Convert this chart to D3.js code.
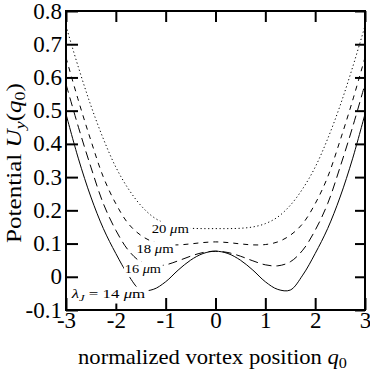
<!DOCTYPE html>
<html>
<head>
<meta charset="utf-8">
<script src="https://cdn.jsdelivr.net/npm/d3@7"></script>
<style>
  body { margin: 0; background: #fff; }
  svg, svg text { font-family: "Liberation Serif", "DejaVu Serif", serif !important; }
</style>
</head>
<body>
<div id="chart"></div>
<script>
// values
const qValues = [-3, -2.75, -2.5, -2.25, -2, -1.75, -1.5, -1.25, -1, -0.75, -0.5, -0.25, 0,
  0.25, 0.5, 0.75, 1, 1.25, 1.5, 1.75, 2, 2.25, 2.5, 2.75, 3];
const u14 = [0.49, 0.355, 0.24, 0.145, 0.07, 0.005, -0.04, -0.038, -0.015, 0.02, 0.05, 0.07, 0.077,
  0.07, 0.05, 0.02, -0.015, -0.038, -0.04, 0.005, 0.07, 0.145, 0.24, 0.355, 0.49];
const u16 = [0.58, 0.45, 0.33, 0.22, 0.14, 0.08, 0.045, 0.033, 0.036, 0.048, 0.062, 0.073, 0.077,
  0.073, 0.062, 0.048, 0.036, 0.033, 0.045, 0.08, 0.14, 0.22, 0.33, 0.45, 0.58];
const u18 = [0.66, 0.53, 0.41, 0.30, 0.22, 0.16, 0.125, 0.105, 0.097, 0.096, 0.099, 0.103, 0.105,
  0.103, 0.099, 0.096, 0.097, 0.105, 0.125, 0.16, 0.22, 0.30, 0.41, 0.53, 0.66];
const u20 = [0.755, 0.63, 0.515, 0.415, 0.33, 0.265, 0.215, 0.18, 0.16, 0.15, 0.146, 0.145, 0.145,
  0.145, 0.146, 0.15, 0.16, 0.18, 0.215, 0.265, 0.33, 0.415, 0.515, 0.63, 0.755];

const xTicks = [-3, -2, -1, 0, 1, 2, 3];
const xTickLabels = ['-3', '-2', '-1', '0', '1', '2', '3'];
const yTicks = [-0.1, 0, 0.1, 0.2, 0.3, 0.4, 0.5, 0.6, 0.7, 0.8];
const yTickLabels = ['-0.1', '0', '0.1', '0.2', '0.3', '0.4', '0.5', '0.6', '0.7', '0.8'];

const W = 370, H = 375;
const margin = { top: 11, right: 5, bottom: 65, left: 66 };
const width = W - margin.left - margin.right;
const height = H - margin.top - margin.bottom;

const svg = d3.select('#chart').append('svg').attr('width', W).attr('height', H);
const g = svg.append('g').attr('transform', `translate(${margin.left},${margin.top})`);

const x = d3.scaleLinear().domain([-3, 3]).range([0, width]);
const y = d3.scaleLinear().domain([-0.1, 0.8]).range([height, 0]);

// squeeze/stretch a text so it spans the given width, anchored at (px, py)
function fit(text, px, py, target) {
  const w = text.node().getBBox().width;
  const k = target / w;
  text.attr('x', 0).attr('y', 0)
    .attr('transform', `translate(${px},${py}) scale(${k},1)`);
}

g.append('clipPath').attr('id', 'clip')
  .append('rect').attr('width', width).attr('height', height);

// curves
const series = [
  { values: u14, dash: null },
  { values: u16, dash: '9,5' },
  { values: u18, dash: '5,5' },
  { values: u20, dash: '1.2,2.6' }
];
const line = d3.line()
  .x(d => x(d[0]))
  .y(d => y(d[1]))
  .curve(d3.curveCatmullRom.alpha(0.5));

const curves = g.append('g').attr('clip-path', 'url(#clip)');
series.forEach(s => {
  curves.append('path')
    .datum(qValues.map((q, i) => [q, s.values[i]]))
    .attr('d', line)
    .attr('fill', 'none')
    .attr('stroke', '#000')
    .attr('stroke-width', 1)
    .attr('stroke-dasharray', s.dash);
});

// axes, ticks pointing inwards on all four sides
function styleAxis(a) {
  a.attr('font-family', null).attr('font-size', 23);
  a.select('.domain').remove();
  a.selectAll('line').attr('stroke', '#000').attr('stroke-width', 2);
  a.selectAll('text').attr('fill', '#000');
}
const axisB = g.append('g').attr('transform', `translate(0,${height})`)
  .call(d3.axisBottom(x).tickValues(xTicks).tickFormat((d, i) => xTickLabels[i])
    .tickSizeInner(-12).tickSizeOuter(0));
styleAxis(axisB);
axisB.selectAll('text').attr('y', 18).attr('dy', null);

const axisL = g.append('g')
  .call(d3.axisLeft(y).tickValues(yTicks).tickFormat((d, i) => yTickLabels[i])
    .tickSizeInner(-12).tickSizeOuter(0));
styleAxis(axisL);
axisL.selectAll('text').attr('dy', null).attr('x', -4).attr('y', 7);

const axisT = g.append('g')
  .call(d3.axisTop(x).tickValues(xTicks).tickFormat('').tickSizeInner(-11).tickSizeOuter(0));
styleAxis(axisT);
const axisR = g.append('g').attr('transform', `translate(${width},0)`)
  .call(d3.axisRight(y).tickValues(yTicks).tickFormat('').tickSizeInner(-10).tickSizeOuter(0));
styleAxis(axisR);

g.append('rect')
  .attr('width', width).attr('height', height)
  .attr('fill', 'none').attr('stroke', '#000').attr('stroke-width', 2);

// curve labels
const labels = g.append('g').attr('font-size', 12);
function curveLabel(parts, q, u, target) {
  const t = labels.append('text').attr('fill', '#000');
  parts.forEach(p => {
    const s = t.append('tspan').text(p.t);
    if (p.i) s.attr('font-style', 'italic');
    if (p.sub) s.attr('font-size', 9).attr('dy', 3);
    if (p.up) s.attr('dy', -3);
  });
  const b = t.node().getBBox();
  fit(t, x(q), y(u), target);
  labels.insert('rect', () => t.node())
    .attr('x', x(q) - 1).attr('y', y(u) + b.y - 0.5)
    .attr('width', target + 2).attr('height', b.height + 1)
    .attr('fill', '#fff');
}
curveLabel([{ t: '20 ' }, { t: 'μ', i: true }, { t: 'm' }], -1.28, 0.132, 38);
curveLabel([{ t: '18 ' }, { t: 'μ', i: true }, { t: 'm' }], -1.586, 0.072, 38);
curveLabel([{ t: '16 ' }, { t: 'μ', i: true }, { t: 'm' }], -1.82, 0.010, 37);
curveLabel([{ t: 'λ', i: true }, { t: 'J', i: true, sub: true }, { t: ' = 14 ', up: true },
  { t: 'μ', i: true }, { t: 'm' }], -2.886, -0.064, 76);

// axis titles
const xt = svg.append('text').attr('font-size', 21).attr('fill', '#000');
xt.append('tspan').text('normalized vortex position ');
xt.append('tspan').attr('font-style', 'italic').text('q');
xt.append('tspan').attr('font-size', 15).attr('dy', 4).text('0');
fit(xt, 78, 364, 269);

const yt = svg.append('text').attr('font-size', 21).attr('fill', '#000');
yt.append('tspan').text('Potential ');
yt.append('tspan').attr('font-style', 'italic').text('U');
yt.append('tspan').attr('font-style', 'italic').attr('font-size', 15).attr('dy', 4).text('y');
yt.append('tspan').attr('dy', -4).text('(');
yt.append('tspan').attr('font-style', 'italic').text('q');
yt.append('tspan').attr('font-size', 15).attr('dy', 4).text('0');
yt.append('tspan').attr('dy', -4).text(')');
{
  const w = yt.node().getBBox().width;
  yt.attr('x', 0).attr('y', 0)
    .attr('transform', `translate(21,243) rotate(-90) scale(${160 / w},1)`);
}
</script>
</body>
</html>
